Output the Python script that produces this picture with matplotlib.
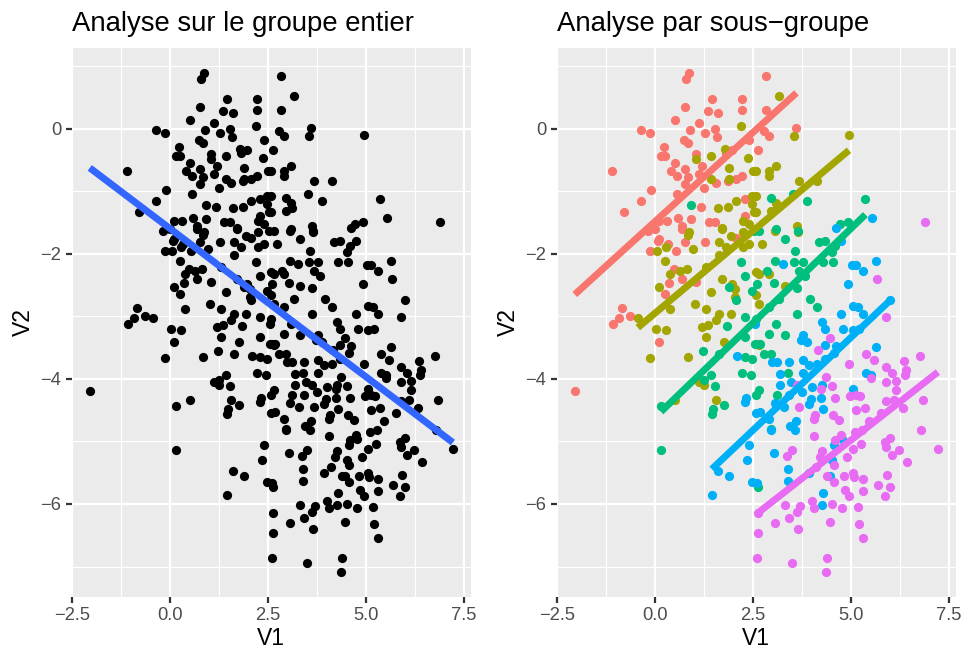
import numpy as np
import matplotlib
matplotlib.use('Agg')
from matplotlib import pyplot as plt

plt.rcParams['font.family'] = ['Liberation Sans', 'DejaVu Sans']

# points, one list per sub-group (V1, V2)
group_1 = [
    (-0.37, -0.02), (-0.13, -0.07), (0.15, -0.43), (-1.10, -0.67), (-0.11, -0.98), (-0.35, -1.15),
    (-0.79, -1.34), (-0.84, -2.86), (-0.93, -3.02), (-1.08, -3.13), (-0.63, -2.99), (-2.05, -4.20),
    (0.11, -3.41), (-0.12, -1.95), (-0.18, -1.64), (0.01, -1.61), (0.07, -1.79),
    (0.87, 0.89), (0.80, 0.79), (1.45, 0.48), (2.21, 0.48), (0.76, 0.34), (2.23, 0.30), (1.36, 0.28),
    (1.60, 0.25), (0.51, 0.14), (1.11, 0.09), (0.89, -0.03), (1.27, -0.07), (1.53, 0.00), (1.57, -0.14),
    (0.74, -0.18), (0.83, -0.23), (0.23, -0.30), (0.26, -0.43), (2.40, -0.18), (1.97, -0.34),
    (1.04, -0.41), (1.81, -0.39), (0.51, -0.55), (0.40, -0.67), (0.77, -0.64), (1.21, -0.60),
    (1.12, -0.73), (0.57, -0.76), (0.85, -0.78), (2.22, -0.76), (2.07, -0.81), (1.85, -0.83),
    (0.77, -0.89), (1.55, -0.87), (1.25, -0.95), (0.57, -1.05), (1.17, -1.26), (0.10, -1.48),
    (0.30, -1.48), (0.59, -1.43), (0.91, -1.45), (0.68, -1.56), (2.30, -1.13), (2.30, -1.40),
    (1.38, -1.49), (1.53, -1.50), (2.82, 0.84), (2.84, 0.30), (2.78, -0.04), (2.90, -0.12),
    (3.61, 0.01), (2.62, -0.34), (0.09, -1.76), (0.32, -1.84), (0.54, -1.96), (0.77, -1.81),
    (1.28, -1.82), (0.70, -1.60), (0.49, -2.25), (0.68, -2.40), (0.36, -2.46), (0.26, -2.65),
    (1.04, -2.45), (2.07, -1.75),
]
group_2 = [
    (0.04, -1.96), (-0.44, -3.02), (0.03, -3.21), (-0.12, -3.66), (0.11, -2.53),
    (2.19, 0.04), (1.78, -0.32), (1.42, -0.43), (1.04, -0.49), (2.38, -0.47), (1.88, -0.63),
    (2.50, -0.67), (1.88, -0.80), (1.42, -0.80), (2.47, -1.08), (2.06, -1.16), (2.47, -1.21),
    (1.60, -1.27), (1.85, -1.26), (2.53, -1.33), (2.25, -1.48), (2.39, -1.52), (1.70, -1.59),
    (0.87, -1.65), (3.16, 0.52), (3.54, -0.12), (4.95, -0.11), (3.09, -0.59), (2.90, -0.68),
    (2.90, -0.76), (2.57, -0.68), (3.67, -0.83), (4.13, -0.83), (2.57, -1.08), (3.08, -1.19),
    (3.12, -1.27), (2.95, -1.32), (2.57, -1.34), (3.63, -1.56), (0.85, -1.70), (1.70, -1.61),
    (1.95, -1.71), (1.63, -1.82), (1.82, -1.89), (2.24, -1.65), (2.40, -1.84), (2.24, -1.89),
    (0.29, -1.89), (0.96, -1.93), (1.63, -2.02), (0.25, -2.12), (0.37, -2.32), (0.63, -2.28),
    (0.82, -2.24), (1.29, -2.21), (1.71, -2.40), (1.97, -2.48), (2.05, -2.56), (2.04, -2.69),
    (1.43, -2.61), (0.37, -2.88), (1.01, -2.81), (1.31, -2.88), (1.63, -2.96), (1.93, -2.97),
    (1.55, -3.06), (1.34, -3.14), (1.21, -3.17), (0.29, -3.22), (1.29, -3.33), (1.76, -3.41),
    (0.85, -3.65), (2.57, -2.29), (2.61, -3.44), (1.25, -4.10), (1.12, -4.05), (1.55, -4.34),
    (0.51, -4.34), (2.57, -2.66), (2.72, -1.84), (3.07, -1.64), (3.65, -1.65), (2.65, -2.32),
    (2.90, -2.32), (3.31, -2.52), (2.65, -2.80), (2.66, -3.46),
]
group_3 = [
    (0.15, -5.14), (0.15, -4.43), (0.91, -1.22), (2.53, -1.64), (2.97, -1.11), (3.51, -1.04),
    (3.88, -1.15), (3.09, -1.61), (3.65, -1.63), (4.92, -1.49), (4.73, -1.53), (2.65, -1.64),
    (5.37, -1.12), (2.19, -2.13), (2.30, -2.35), (1.88, -2.53), (2.07, -2.74), (2.48, -2.59),
    (2.61, -2.48), (2.30, -3.01), (1.84, -3.15), (2.29, -3.33), (2.55, -3.44), (1.63, -3.60),
    (1.22, -3.56), (2.30, -3.65), (2.48, -3.68), (2.22, -3.90), (2.45, -3.94), (1.42, -3.94),
    (1.25, -4.02), (1.53, -4.11), (1.76, -4.42), (1.48, -4.48), (2.57, -4.26), (3.33, -1.76),
    (3.58, -1.96), (3.07, -2.12), (3.56, -2.13), (3.79, -2.13), (4.19, -1.81), (4.34, -1.80),
    (4.60, -1.87), (4.53, -1.97), (4.30, -2.13), (4.55, -2.13), (3.67, -2.28), (2.86, -2.27),
    (3.83, -2.36), (3.03, -2.46), (3.62, -2.55), (3.16, -2.72), (3.96, -2.72), (4.13, -2.85),
    (2.90, -2.85), (2.57, -3.04), (3.09, -3.12), (3.63, -2.97), (3.31, -3.30), (2.90, -3.29),
    (2.69, -3.44), (2.78, -3.60), (2.95, -3.61), (3.40, -3.91), (2.65, -4.18), (3.11, -4.25),
    (1.46, -4.56), (2.62, -5.73), (2.95, -4.80),
]
group_4 = [
    (4.61, -1.59), (5.55, -1.43), (2.10, -3.64), (2.55, -3.13), (2.31, -4.31), (2.30, -4.37),
    (2.57, -4.54), (3.26, -2.16), (4.76, -1.80), (5.02, -2.18), (4.93, -2.49), (5.06, -2.84),
    (4.75, -2.96), (4.26, -3.09), (4.34, -3.21), (4.80, -3.20), (5.06, -3.22), (3.79, -3.30),
    (3.88, -3.41), (3.73, -3.38), (4.35, -3.46), (4.62, -3.47), (4.56, -3.58), (4.33, -3.68),
    (2.99, -3.73), (3.12, -3.73), (3.41, -3.73), (3.79, -3.70), (3.92, -3.78), (4.13, -3.76),
    (3.79, -3.90), (3.19, -3.93), (3.47, -4.05), (3.19, -4.09), (4.00, -4.13), (4.26, -4.10),
    (3.75, -4.21), (3.99, -4.32), (4.24, -4.31), (3.07, -4.39), (3.28, -4.45), (3.41, -4.25),
    (3.92, -4.40), (4.30, -4.48), (2.69, -4.53), (5.06, -4.16), (5.65, -2.11), (5.30, -2.28),
    (5.13, -2.18), (6.01, -2.74), (5.17, -2.85), (5.31, -2.96), (5.21, -3.20), (5.65, -3.49),
    (5.38, -3.90), (5.51, -3.94), (2.39, -5.05), (2.34, -5.29), (1.60, -5.47), (1.88, -5.55),
    (2.48, -5.65), (1.45, -5.86), (2.90, -4.64), (2.95, -4.82), (3.45, -4.76), (3.60, -4.67),
    (3.58, -4.82), (3.04, -5.19), (3.40, -5.44), (3.40, -5.63), (3.94, -5.51), (4.47, -5.55),
    (4.53, -5.30), (4.56, -5.06), (4.77, -4.96), (4.30, -5.83), (4.27, -6.01), (2.61, -5.67),
]
group_5 = [
    (6.90, -1.49), (4.47, -3.35), (4.16, -3.54), (4.95, -3.76), (4.36, -3.97), (4.51, -4.11),
    (4.24, -4.16), (4.60, -4.30), (4.98, -4.27), (5.14, -4.26), (3.67, -4.45), (3.62, -4.10),
    (4.09, -4.58), (4.55, -4.58), (5.14, -4.50), (5.67, -2.40), (5.89, -3.01), (5.38, -3.60),
    (5.59, -3.70), (6.35, -3.72), (6.77, -3.63), (5.89, -3.81), (6.06, -3.90), (6.40, -3.86),
    (6.38, -3.94), (6.15, -4.04), (5.89, -4.05), (5.51, -3.99), (6.16, -4.18), (6.84, -4.34),
    (5.89, -4.36), (6.10, -4.34), (5.22, -4.27), (5.37, -4.47), (6.32, -4.46), (5.76, -4.55),
    (2.62, -6.14), (2.62, -6.47), (2.61, -6.87), (4.07, -4.64), (4.70, -4.66), (4.07, -4.92),
    (4.60, -4.98), (4.75, -4.89), (5.10, -4.85), (3.49, -5.13), (3.38, -5.24), (4.26, -5.15),
    (4.22, -5.25), (4.58, -5.38), (4.89, -5.25), (4.40, -5.55), (4.11, -5.41), (4.56, -5.65),
    (4.83, -5.55), (5.06, -5.50), (4.85, -5.78), (4.95, -5.88), (4.77, -6.07), (4.51, -6.00),
    (4.00, -5.95), (4.06, -6.07), (3.71, -6.03), (3.33, -6.01), (3.63, -6.13), (3.41, -6.22),
    (3.07, -6.31), (3.65, -6.40), (4.47, -6.29), (3.49, -6.95), (4.38, -6.86), (4.36, -7.08),
    (5.19, -6.05), (5.20, -6.32), (6.80, -4.81), (7.22, -5.12), (5.87, -5.01), (6.01, -4.94),
    (5.89, -5.09), (6.23, -5.13), (6.04, -5.22), (6.43, -5.33), (5.26, -5.04), (5.05, -5.12),
    (5.93, -5.53), (5.70, -5.69), (5.99, -5.73), (5.87, -5.87), (5.09, -5.57), (5.32, -5.60),
    (5.30, -5.80), (5.32, -6.55), (5.46, -4.68), (5.29, -4.81),
]
groups = [group_1, group_2, group_3, group_4, group_5]
group_colors = ['#F8766D', '#A3A500', '#00BF7D', '#00B0F6', '#E76BF3']

titles = ['Analyse sur le groupe entier', 'Analyse par sous\u2212groupe']
x_ticks = [-2.5, 0.0, 2.5, 5.0, 7.5]
x_tick_labels = ['\u22122.5', '0.0', '2.5', '5.0', '7.5']
y_ticks = [0, -2, -4, -6]
y_tick_labels = ['0', '\u22122', '\u22124', '\u22126']

W, H = 966, 650


def style_axis(ax, title):
    ax.set_facecolor('#EBEBEB')
    for s in ax.spines.values():
        s.set_visible(False)
    ax.margins(0.05)
    ax.set_xticks(x_ticks)
    ax.set_xticklabels(x_tick_labels)
    ax.set_yticks(y_ticks)
    ax.set_yticklabels(y_tick_labels)
    ax.set_xticks([-1.25, 1.25, 3.75, 6.25], minor=True)
    ax.set_yticks([1, -1, -3, -5, -7], minor=True)
    ax.grid(which='major', color='white', linewidth=1.6)
    ax.grid(which='minor', color='white', linewidth=0.8)
    ax.set_axisbelow(True)
    ax.tick_params(which='major', length=4.1, width=1.6, color='#333333',
                   labelsize=13.2, labelcolor='#4D4D4D', pad=3.3)
    ax.tick_params(which='minor', length=0)
    ax.set_xlabel('V1', fontsize=16.5, labelpad=2.0)
    ax.set_ylabel('V2', fontsize=16.5, labelpad=4.1)
    ax.set_title(title, loc='left', fontsize=19.8, pad=12.5)


fig = plt.figure(figsize=(W / 100, H / 100), dpi=100)
ax1 = fig.add_axes([71.6 / W, 53.5 / H, 399.4 / W, 548.5 / H])
ax2 = fig.add_axes([556.6 / W, 53.5 / H, 399.4 / W, 548.5 / H])

all_pts = np.array([p for g in groups for p in g])

# whole group
ax1.scatter(all_pts[:, 0], all_pts[:, 1], s=44, color='black', linewidths=0, zorder=2)
k, b = np.polyfit(all_pts[:, 0], all_pts[:, 1], 1)
xs = np.array([all_pts[:, 0].min(), all_pts[:, 0].max()])
ax1.plot(xs, k * xs + b, color='#3366FF', linewidth=5, solid_capstyle='butt', zorder=3)
style_axis(ax1, titles[0])

# by sub-group
for g, c in zip(groups, group_colors):
    pts = np.array(g)
    ax2.scatter(pts[:, 0], pts[:, 1], s=44, color=c, linewidths=0, zorder=2)
for g, c in zip(groups, group_colors):
    pts = np.array(g)
    k, b = np.polyfit(pts[:, 0], pts[:, 1], 1)
    xs = np.array([pts[:, 0].min(), pts[:, 0].max()])
    ax2.plot(xs, k * xs + b, color=c, linewidth=5, solid_capstyle='butt', zorder=3)
style_axis(ax2, titles[1])

fig.savefig('out.png', dpi=100)
